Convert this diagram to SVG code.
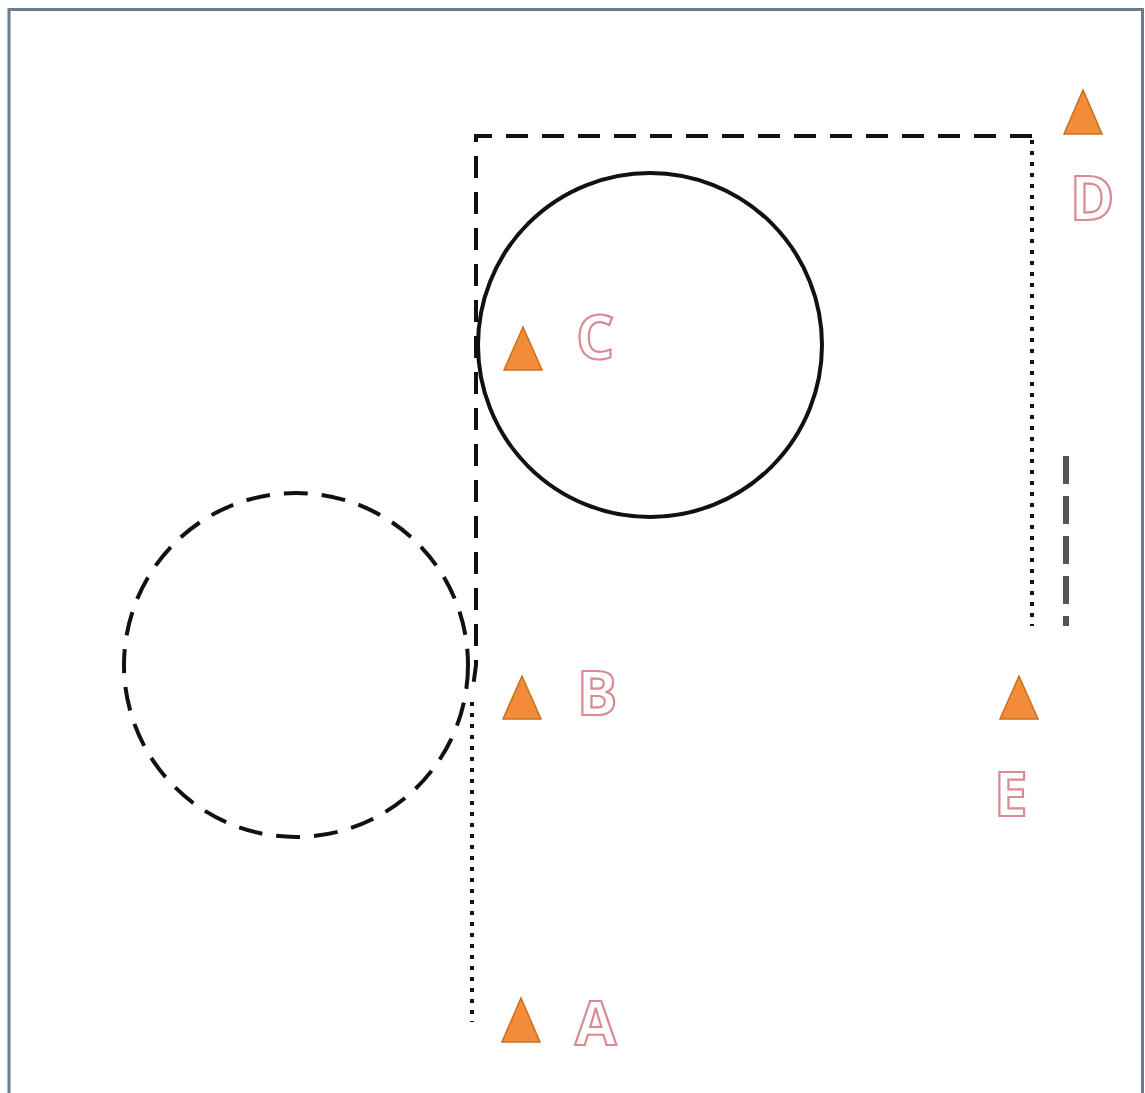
<svg xmlns="http://www.w3.org/2000/svg" width="1145" height="1093" viewBox="0 0 1145 1093">
<style>
.tri{fill:#f28c38;stroke:#c8701f;stroke-width:1.5}
.lbl{font-family:"Open Sans","Liberation Sans",sans-serif;font-weight:bold;font-size:60px;fill:#ffffff;stroke:#d98a92;stroke-width:2.2}
.dash{fill:none;stroke:#111;stroke-width:4;stroke-dasharray:22 14}
.dot{fill:none;stroke:#111;stroke-width:4;stroke-dasharray:4 7}
</style>
<rect x="0" y="0" width="1145" height="1093" fill="#ffffff"/>
<path d="M9,1100 V9.5 H1142.5 V1100" fill="none" stroke="#6b7b8c" stroke-width="3"/>
<g id="connectors">
<path class="dash" d="M1032,136 H476 V665 L472,695"/>
<path class="dot" d="M472,702 V1022"/>
<path class="dot" d="M1032,140 V626"/>
<path d="M1066,456 V626" fill="none" stroke="#555" stroke-width="6" stroke-dasharray="28 12"/>
</g>
<g id="circle-solid"><circle cx="650" cy="345" r="172" fill="none" stroke="#111" stroke-width="4"/></g>
<g id="circle-dashed"><circle cx="296" cy="665" r="172" fill="none" stroke="#111" stroke-width="4" stroke-dasharray="24 14"/></g>
<g id="node-C"><polygon class="tri" points="523,327 504,370 542,370"/><text class="lbl" x="576" y="359">C</text></g>
<g id="node-B"><polygon class="tri" points="522,676 503,719 541,719"/><text class="lbl" x="577" y="715">B</text></g>
<g id="node-A"><polygon class="tri" points="521,998 502,1042 540,1042"/><text class="lbl" x="575" y="1045">A</text></g>
<g id="node-D"><polygon class="tri" points="1083,90 1064,134 1102,134"/><text class="lbl" x="1070" y="220">D</text></g>
<g id="node-E"><polygon class="tri" points="1019,676 1000,719 1038,719"/><text class="lbl" x="994" y="816">E</text></g>
</svg>
